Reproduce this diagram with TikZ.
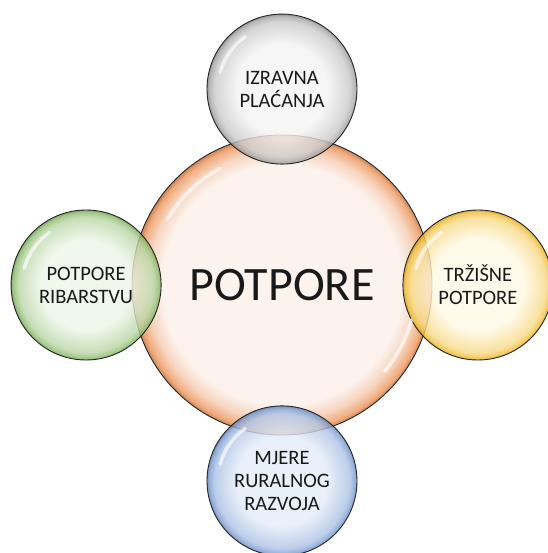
\documentclass[tikz,border=0pt]{standalone}
\usepackage{fontspec}
\setmainfont{Carlito}
\usepackage{xcolor}
\usetikzlibrary{positioning}

\definecolor{coreIn}{HTML}{FCF3EE}
\definecolor{coreEdge}{HTML}{EE9E68}
\definecolor{grayIn}{HTML}{F4F4F4}
\definecolor{grayEdge}{HTML}{9A9A9A}
\definecolor{greenIn}{HTML}{EDF5E8}
\definecolor{greenEdge}{HTML}{7DB35A}
\definecolor{yellowIn}{HTML}{FFFAE6}
\definecolor{yellowEdge}{HTML}{EEB41A}
\definecolor{blueIn}{HTML}{E4EDF9}
\definecolor{blueEdge}{HTML}{6C91CC}

% glossy bubble shadings
\newcommand\bubbleshading[5]{%
  \pgfdeclareradialshading{#1}{\pgfpoint{0bp}{0bp}}{%
    color(0bp)=(#2); color(#4bp)=(#2); color(22.5bp)=(#3!#5!#2);
    color(24.3bp)=(#3!85!#2); color(25bp)=(#3!85!black); color(50bp)=(#3!85!black)}}
\bubbleshading{coreshade}{coreIn}{coreEdge}{20}{35}
\bubbleshading{grayshade}{grayIn}{grayEdge}{15}{45}
\bubbleshading{greenshade}{greenIn}{greenEdge}{15}{45}
\bubbleshading{yellowshade}{yellowIn}{yellowEdge}{15}{45}
\bubbleshading{blueshade}{blueIn}{blueEdge}{15}{45}

\begin{document}
\begin{tikzpicture}[
  x=1pt, y=1pt,
  every node/.style={circle, draw=black!85, line width=0.9pt, align=center,
                     text=black!90},
  core/.style={minimum size=300pt, shading=coreshade,
               font=\fontsize{48}{56}\selectfont},
  bubble/.style={minimum size=150pt, fill opacity=0.82, text opacity=1,
                 font=\fontsize{20.5}{23}\selectfont},
  gloss/.style={white, line width=3.5pt, line cap=round, opacity=0.65}
]
\useasboundingbox (0,0) rectangle (547,553);

\node[core] (core) at (282,268) {POTPORE};

\node[bubble, shading=grayshade]   (izravna) [above=-30pt of core] {IZRAVNA\\PLAĆANJA};
\node[bubble, shading=greenshade]  (ribar)   [left=-30pt of core]  {POTPORE\\RIBARSTVU};
\node[bubble, shading=yellowshade] (trzisne) [right=-30pt of core] {TRŽIŠNE\\POTPORE};
\node[bubble, shading=blueshade]   (ruralni) [below=-30pt of core] {MJERE\\RURALNOG\\RAZVOJA};

% highlights
\draw[gloss] (core.center) ++(118:132) arc[start angle=118, end angle=150, radius=132];
\draw[gloss] (core.center) ++(-40:134) arc[start angle=-40, end angle=-15, radius=134];
\foreach \n in {izravna, ribar, trzisne, ruralni}
  \draw[gloss] (\n.center) ++(125:64) arc[start angle=125, end angle=165, radius=64];
\end{tikzpicture}
\end{document}
